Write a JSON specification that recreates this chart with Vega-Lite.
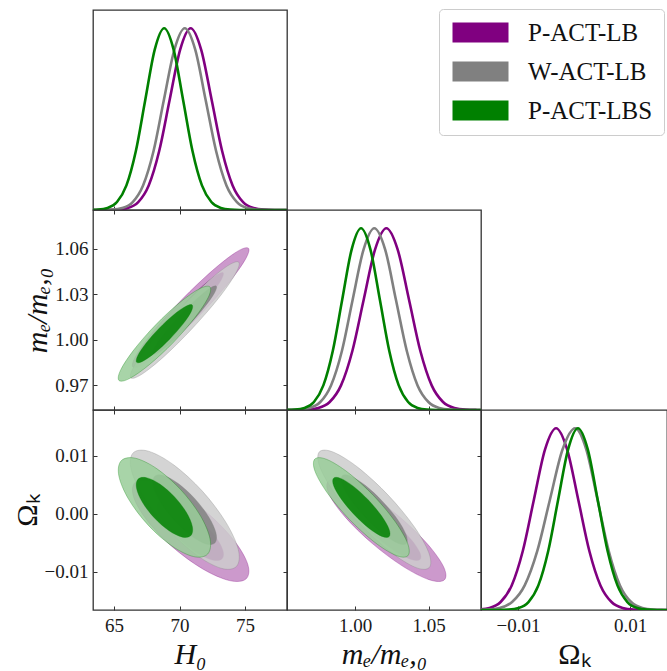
{
"$schema": "https://vega.github.io/schema/vega-lite/v6.json",
"autosize": {"type": "pad"},
"padding": {"left": 11, "top": 8, "right": 0, "bottom": 0},
"background": "white",
"datasets": {
"h0": [
{"s":"P-ACT-LB","x":63.4,"y":0},{"s":"P-ACT-LB","x":64.45,"y":0.0003},{"s":"P-ACT-LB","x":65.25,"y":0.0022},{"s":"P-ACT-LB","x":66.05,"y":0.0111},{"s":"P-ACT-LB","x":66.85,"y":0.0439},{"s":"P-ACT-LB","x":67.65,"y":0.1353},{"s":"P-ACT-LB","x":68.45,"y":0.3247},{"s":"P-ACT-LB","x":69.25,"y":0.6065},{"s":"P-ACT-LB","x":70.05,"y":0.8825},{"s":"P-ACT-LB","x":70.85,"y":1},{"s":"P-ACT-LB","x":71.65,"y":0.8825},{"s":"P-ACT-LB","x":72.45,"y":0.6065},{"s":"P-ACT-LB","x":73.25,"y":0.3247},{"s":"P-ACT-LB","x":74.05,"y":0.1353},{"s":"P-ACT-LB","x":74.85,"y":0.0439},{"s":"P-ACT-LB","x":75.65,"y":0.0111},{"s":"P-ACT-LB","x":76.45,"y":0.0022},{"s":"P-ACT-LB","x":77.25,"y":0.0003},{"s":"P-ACT-LB","x":78.2,"y":0},
{"s":"W-ACT-LB","x":63.4,"y":0},{"s":"W-ACT-LB","x":64.04,"y":0.0003},{"s":"W-ACT-LB","x":64.84,"y":0.0022},{"s":"W-ACT-LB","x":65.63,"y":0.0111},{"s":"W-ACT-LB","x":66.43,"y":0.0439},{"s":"W-ACT-LB","x":67.22,"y":0.1353},{"s":"W-ACT-LB","x":68.02,"y":0.3247},{"s":"W-ACT-LB","x":68.81,"y":0.6065},{"s":"W-ACT-LB","x":69.61,"y":0.8825},{"s":"W-ACT-LB","x":70.4,"y":1},{"s":"W-ACT-LB","x":71.2,"y":0.8825},{"s":"W-ACT-LB","x":71.99,"y":0.6065},{"s":"W-ACT-LB","x":72.79,"y":0.3247},{"s":"W-ACT-LB","x":73.58,"y":0.1353},{"s":"W-ACT-LB","x":74.38,"y":0.0439},{"s":"W-ACT-LB","x":75.17,"y":0.0111},{"s":"W-ACT-LB","x":75.97,"y":0.0022},{"s":"W-ACT-LB","x":76.76,"y":0.0003},{"s":"W-ACT-LB","x":78.2,"y":0},
{"s":"P-ACT-LBS","x":63.07,"y":0.0003},{"s":"P-ACT-LBS","x":63.79,"y":0.0022},{"s":"P-ACT-LBS","x":64.51,"y":0.0111},{"s":"P-ACT-LBS","x":65.23,"y":0.0439},{"s":"P-ACT-LBS","x":65.95,"y":0.1353},{"s":"P-ACT-LBS","x":66.67,"y":0.3247},{"s":"P-ACT-LBS","x":67.39,"y":0.6065},{"s":"P-ACT-LBS","x":68.11,"y":0.8825},{"s":"P-ACT-LBS","x":68.83,"y":1},{"s":"P-ACT-LBS","x":69.55,"y":0.8825},{"s":"P-ACT-LBS","x":70.27,"y":0.6065},{"s":"P-ACT-LBS","x":70.99,"y":0.3247},{"s":"P-ACT-LBS","x":71.71,"y":0.1353},{"s":"P-ACT-LBS","x":72.43,"y":0.0439},{"s":"P-ACT-LBS","x":73.15,"y":0.0111},{"s":"P-ACT-LBS","x":73.87,"y":0.0022},{"s":"P-ACT-LBS","x":74.59,"y":0.0003},{"s":"P-ACT-LBS","x":78.2,"y":0}
],
"me": [
{"s":"P-ACT-LB","x":0.9537,"y":0},{"s":"P-ACT-LB","x":0.9596,"y":0.0003},{"s":"P-ACT-LB","x":0.9673,"y":0.0022},{"s":"P-ACT-LB","x":0.975,"y":0.0111},{"s":"P-ACT-LB","x":0.9827,"y":0.0439},{"s":"P-ACT-LB","x":0.9904,"y":0.1353},{"s":"P-ACT-LB","x":0.9981,"y":0.3247},{"s":"P-ACT-LB","x":1.0058,"y":0.6065},{"s":"P-ACT-LB","x":1.0135,"y":0.8825},{"s":"P-ACT-LB","x":1.0212,"y":1},{"s":"P-ACT-LB","x":1.0289,"y":0.8825},{"s":"P-ACT-LB","x":1.0366,"y":0.6065},{"s":"P-ACT-LB","x":1.0443,"y":0.3247},{"s":"P-ACT-LB","x":1.052,"y":0.1353},{"s":"P-ACT-LB","x":1.0597,"y":0.0439},{"s":"P-ACT-LB","x":1.0674,"y":0.0111},{"s":"P-ACT-LB","x":1.0751,"y":0.0022},{"s":"P-ACT-LB","x":1.0828,"y":0.0003},{"s":"P-ACT-LB","x":1.0855,"y":0},
{"s":"W-ACT-LB","x":0.9542,"y":0.0003},{"s":"W-ACT-LB","x":0.9616,"y":0.0022},{"s":"W-ACT-LB","x":0.9689,"y":0.0111},{"s":"W-ACT-LB","x":0.9763,"y":0.0439},{"s":"W-ACT-LB","x":0.9836,"y":0.1353},{"s":"W-ACT-LB","x":0.991,"y":0.3247},{"s":"W-ACT-LB","x":0.9983,"y":0.6065},{"s":"W-ACT-LB","x":1.0057,"y":0.8825},{"s":"W-ACT-LB","x":1.013,"y":1},{"s":"W-ACT-LB","x":1.0204,"y":0.8825},{"s":"W-ACT-LB","x":1.0277,"y":0.6065},{"s":"W-ACT-LB","x":1.0351,"y":0.3247},{"s":"W-ACT-LB","x":1.0424,"y":0.1353},{"s":"W-ACT-LB","x":1.0498,"y":0.0439},{"s":"W-ACT-LB","x":1.0571,"y":0.0111},{"s":"W-ACT-LB","x":1.0645,"y":0.0022},{"s":"W-ACT-LB","x":1.0718,"y":0.0003},{"s":"W-ACT-LB","x":1.0855,"y":0},
{"s":"P-ACT-LBS","x":0.9528,"y":0.0003},{"s":"P-ACT-LBS","x":0.9592,"y":0.0022},{"s":"P-ACT-LBS","x":0.9656,"y":0.0111},{"s":"P-ACT-LBS","x":0.972,"y":0.0439},{"s":"P-ACT-LBS","x":0.9784,"y":0.1353},{"s":"P-ACT-LBS","x":0.9848,"y":0.3247},{"s":"P-ACT-LBS","x":0.9912,"y":0.6065},{"s":"P-ACT-LBS","x":0.9976,"y":0.8825},{"s":"P-ACT-LBS","x":1.004,"y":1},{"s":"P-ACT-LBS","x":1.0104,"y":0.8825},{"s":"P-ACT-LBS","x":1.0168,"y":0.6065},{"s":"P-ACT-LBS","x":1.0232,"y":0.3247},{"s":"P-ACT-LBS","x":1.0296,"y":0.1353},{"s":"P-ACT-LBS","x":1.036,"y":0.0439},{"s":"P-ACT-LBS","x":1.0424,"y":0.0111},{"s":"P-ACT-LBS","x":1.0488,"y":0.0022},{"s":"P-ACT-LBS","x":1.0552,"y":0.0003},{"s":"P-ACT-LBS","x":1.0855,"y":0}
],
"ok": [
{"s":"P-ACT-LB","x":-0.01904,"y":0.0003},{"s":"P-ACT-LB","x":-0.01706,"y":0.0022},{"s":"P-ACT-LB","x":-0.01508,"y":0.0111},{"s":"P-ACT-LB","x":-0.0131,"y":0.0439},{"s":"P-ACT-LB","x":-0.01112,"y":0.1353},{"s":"P-ACT-LB","x":-0.00914,"y":0.3247},{"s":"P-ACT-LB","x":-0.00716,"y":0.6065},{"s":"P-ACT-LB","x":-0.00518,"y":0.8825},{"s":"P-ACT-LB","x":-0.0032,"y":1},{"s":"P-ACT-LB","x":-0.00122,"y":0.8825},{"s":"P-ACT-LB","x":0.00076,"y":0.6065},{"s":"P-ACT-LB","x":0.00274,"y":0.3247},{"s":"P-ACT-LB","x":0.00472,"y":0.1353},{"s":"P-ACT-LB","x":0.0067,"y":0.0439},{"s":"P-ACT-LB","x":0.00868,"y":0.0111},{"s":"P-ACT-LB","x":0.01066,"y":0.0022},{"s":"P-ACT-LB","x":0.01264,"y":0.0003},{"s":"P-ACT-LB","x":0.0166,"y":0},
{"s":"W-ACT-LB","x":-0.0178,"y":0.0003},{"s":"W-ACT-LB","x":-0.01555,"y":0.0022},{"s":"W-ACT-LB","x":-0.0133,"y":0.0111},{"s":"W-ACT-LB","x":-0.01105,"y":0.0439},{"s":"W-ACT-LB","x":-0.0088,"y":0.1353},{"s":"W-ACT-LB","x":-0.00655,"y":0.3247},{"s":"W-ACT-LB","x":-0.0043,"y":0.6065},{"s":"W-ACT-LB","x":-0.00205,"y":0.8825},{"s":"W-ACT-LB","x":0.0002,"y":1},{"s":"W-ACT-LB","x":0.0022,"y":0.8825},{"s":"W-ACT-LB","x":0.0042,"y":0.6065},{"s":"W-ACT-LB","x":0.0062,"y":0.3247},{"s":"W-ACT-LB","x":0.0082,"y":0.1353},{"s":"W-ACT-LB","x":0.0102,"y":0.0439},{"s":"W-ACT-LB","x":0.0122,"y":0.0111},{"s":"W-ACT-LB","x":0.0142,"y":0.0022},{"s":"W-ACT-LB","x":0.0162,"y":0.0003},{"s":"W-ACT-LB","x":0.0166,"y":0},
{"s":"P-ACT-LBS","x":-0.0166,"y":0},{"s":"P-ACT-LBS","x":-0.01342,"y":0.0003},{"s":"P-ACT-LBS","x":-0.01166,"y":0.0022},{"s":"P-ACT-LBS","x":-0.00989,"y":0.0111},{"s":"P-ACT-LBS","x":-0.00813,"y":0.0439},{"s":"P-ACT-LBS","x":-0.00636,"y":0.1353},{"s":"P-ACT-LBS","x":-0.0046,"y":0.3247},{"s":"P-ACT-LBS","x":-0.00283,"y":0.6065},{"s":"P-ACT-LBS","x":-0.00106,"y":0.8825},{"s":"P-ACT-LBS","x":0.0007,"y":1},{"s":"P-ACT-LBS","x":0.00247,"y":0.8825},{"s":"P-ACT-LBS","x":0.00423,"y":0.6065},{"s":"P-ACT-LBS","x":0.006,"y":0.3247},{"s":"P-ACT-LBS","x":0.00776,"y":0.1353},{"s":"P-ACT-LBS","x":0.00953,"y":0.0439},{"s":"P-ACT-LBS","x":0.01129,"y":0.0111},{"s":"P-ACT-LBS","x":0.01306,"y":0.0022},{"s":"P-ACT-LBS","x":0.01482,"y":0.0003},{"s":"P-ACT-LBS","x":0.0166,"y":0}
],
"hm": [
{"s":"P","l":"o","k":0,"x":75.26,"y":1.0603},{"s":"P","l":"o","k":1,"x":74.35,"y":1.0579},{"s":"P","l":"o","k":2,"x":72.51,"y":1.0456},{"s":"P","l":"o","k":3,"x":70.22,"y":1.0268},{"s":"P","l":"o","k":4,"x":68.1,"y":1.0065},{"s":"P","l":"o","k":5,"x":66.72,"y":0.9901},{"s":"P","l":"o","k":6,"x":66.44,"y":0.9821},{"s":"P","l":"o","k":7,"x":67.35,"y":0.9845},{"s":"P","l":"o","k":8,"x":69.19,"y":0.9968},{"s":"P","l":"o","k":9,"x":71.48,"y":1.0156},{"s":"P","l":"o","k":10,"x":73.6,"y":1.0359},{"s":"P","l":"o","k":11,"x":74.98,"y":1.0523},
{"s":"P","l":"i","k":0,"x":73.33,"y":1.0441},{"s":"P","l":"i","k":1,"x":72.82,"y":1.0426},{"s":"P","l":"i","k":2,"x":71.78,"y":1.0355},{"s":"P","l":"i","k":3,"x":70.5,"y":1.0245},{"s":"P","l":"i","k":4,"x":69.3,"y":1.0126},{"s":"P","l":"i","k":5,"x":68.52,"y":1.003},{"s":"P","l":"i","k":6,"x":68.37,"y":0.9983},{"s":"P","l":"i","k":7,"x":68.88,"y":0.9998},{"s":"P","l":"i","k":8,"x":69.92,"y":1.0069},{"s":"P","l":"i","k":9,"x":71.2,"y":1.0179},{"s":"P","l":"i","k":10,"x":72.4,"y":1.0298},{"s":"P","l":"i","k":11,"x":73.18,"y":1.0394},
{"s":"W","l":"o","k":0,"x":74.52,"y":1.0511},{"s":"W","l":"o","k":1,"x":73.67,"y":1.0487},{"s":"W","l":"o","k":2,"x":71.95,"y":1.0368},{"s":"W","l":"o","k":3,"x":69.81,"y":1.0184},{"s":"W","l":"o","k":4,"x":67.83,"y":0.9987},{"s":"W","l":"o","k":5,"x":66.54,"y":0.9827},{"s":"W","l":"o","k":6,"x":66.28,"y":0.9749},{"s":"W","l":"o","k":7,"x":67.13,"y":0.9773},{"s":"W","l":"o","k":8,"x":68.85,"y":0.9892},{"s":"W","l":"o","k":9,"x":70.99,"y":1.0076},{"s":"W","l":"o","k":10,"x":72.97,"y":1.0273},{"s":"W","l":"o","k":11,"x":74.26,"y":1.0433},
{"s":"W","l":"i","k":0,"x":72.81,"y":1.0353},{"s":"W","l":"i","k":1,"x":72.31,"y":1.0339},{"s":"W","l":"i","k":2,"x":71.31,"y":1.0269},{"s":"W","l":"i","k":3,"x":70.06,"y":1.0162},{"s":"W","l":"i","k":4,"x":68.9,"y":1.0046},{"s":"W","l":"i","k":5,"x":68.14,"y":0.9953},{"s":"W","l":"i","k":6,"x":67.99,"y":0.9907},{"s":"W","l":"i","k":7,"x":68.49,"y":0.9921},{"s":"W","l":"i","k":8,"x":69.49,"y":0.9991},{"s":"W","l":"i","k":9,"x":70.74,"y":1.0098},{"s":"W","l":"i","k":10,"x":71.9,"y":1.0214},{"s":"W","l":"i","k":11,"x":72.66,"y":1.0307},
{"s":"G","l":"o","k":0,"x":72.32,"y":1.0348},{"s":"G","l":"o","k":1,"x":71.52,"y":1.0336},{"s":"G","l":"o","k":2,"x":70.01,"y":1.0245},{"s":"G","l":"o","k":3,"x":68.19,"y":1.0099},{"s":"G","l":"o","k":4,"x":66.55,"y":0.9937},{"s":"G","l":"o","k":5,"x":65.52,"y":0.9803},{"s":"G","l":"o","k":6,"x":65.38,"y":0.9732},{"s":"G","l":"o","k":7,"x":66.18,"y":0.9744},{"s":"G","l":"o","k":8,"x":67.69,"y":0.9835},{"s":"G","l":"o","k":9,"x":69.51,"y":0.9981},{"s":"G","l":"o","k":10,"x":71.15,"y":1.0143},{"s":"G","l":"o","k":11,"x":72.18,"y":1.0277},
{"s":"G","l":"i","k":0,"x":70.97,"y":1.0229},{"s":"G","l":"i","k":1,"x":70.49,"y":1.0221},{"s":"G","l":"i","k":2,"x":69.56,"y":1.0165},{"s":"G","l":"i","k":3,"x":68.45,"y":1.0076},{"s":"G","l":"i","k":4,"x":67.44,"y":0.9977},{"s":"G","l":"i","k":5,"x":66.81,"y":0.9895},{"s":"G","l":"i","k":6,"x":66.73,"y":0.9851},{"s":"G","l":"i","k":7,"x":67.21,"y":0.9859},{"s":"G","l":"i","k":8,"x":68.14,"y":0.9915},{"s":"G","l":"i","k":9,"x":69.25,"y":1.0004},{"s":"G","l":"i","k":10,"x":70.26,"y":1.0103},{"s":"G","l":"i","k":11,"x":70.89,"y":1.0185}
],
"ho": [
{"s":"P","l":"o","k":0,"x":72.26,"y":-0.00012},{"s":"P","l":"o","k":1,"x":69.96,"y":0.00368},{"s":"P","l":"o","k":2,"x":67.9,"y":0.00572},{"s":"P","l":"o","k":3,"x":66.63,"y":0.00545},{"s":"P","l":"o","k":4,"x":66.49,"y":0.00294},{"s":"P","l":"o","k":5,"x":67.52,"y":-0.00114},{"s":"P","l":"o","k":6,"x":69.44,"y":-0.00568},{"s":"P","l":"o","k":7,"x":71.74,"y":-0.00948},{"s":"P","l":"o","k":8,"x":73.8,"y":-0.01152},{"s":"P","l":"o","k":9,"x":75.07,"y":-0.01125},{"s":"P","l":"o","k":10,"x":75.21,"y":-0.00874},{"s":"P","l":"o","k":11,"x":74.18,"y":-0.00466},
{"s":"P","l":"i","k":0,"x":71.64,"y":-0.00127},{"s":"P","l":"i","k":1,"x":70.35,"y":0.00097},{"s":"P","l":"i","k":2,"x":69.19,"y":0.00217},{"s":"P","l":"i","k":3,"x":68.47,"y":0.002},{"s":"P","l":"i","k":4,"x":68.39,"y":0.00053},{"s":"P","l":"i","k":5,"x":68.97,"y":-0.00186},{"s":"P","l":"i","k":6,"x":70.06,"y":-0.00453},{"s":"P","l":"i","k":7,"x":71.35,"y":-0.00677},{"s":"P","l":"i","k":8,"x":72.51,"y":-0.00797},{"s":"P","l":"i","k":9,"x":73.23,"y":-0.0078},{"s":"P","l":"i","k":10,"x":73.31,"y":-0.00633},{"s":"P","l":"i","k":11,"x":72.73,"y":-0.00394},
{"s":"W","l":"o","k":0,"x":71.72,"y":0.00396},{"s":"W","l":"o","k":1,"x":69.57,"y":0.00841},{"s":"W","l":"o","k":2,"x":67.64,"y":0.01079},{"s":"W","l":"o","k":3,"x":66.45,"y":0.01047},{"s":"W","l":"o","k":4,"x":66.32,"y":0.00753},{"s":"W","l":"o","k":5,"x":67.29,"y":0.00277},{"s":"W","l":"o","k":6,"x":69.08,"y":-0.00256},{"s":"W","l":"o","k":7,"x":71.23,"y":-0.00701},{"s":"W","l":"o","k":8,"x":73.16,"y":-0.00939},{"s":"W","l":"o","k":9,"x":74.35,"y":-0.00907},{"s":"W","l":"o","k":10,"x":74.48,"y":-0.00613},{"s":"W","l":"o","k":11,"x":73.51,"y":-0.00137},
{"s":"W","l":"i","k":0,"x":71.17,"y":0.0026},{"s":"W","l":"i","k":1,"x":69.91,"y":0.0052},{"s":"W","l":"i","k":2,"x":68.79,"y":0.0066},{"s":"W","l":"i","k":3,"x":68.09,"y":0.00641},{"s":"W","l":"i","k":4,"x":68.02,"y":0.00469},{"s":"W","l":"i","k":5,"x":68.58,"y":0.00191},{"s":"W","l":"i","k":6,"x":69.63,"y":-0.0012},{"s":"W","l":"i","k":7,"x":70.89,"y":-0.0038},{"s":"W","l":"i","k":8,"x":72.01,"y":-0.0052},{"s":"W","l":"i","k":9,"x":72.71,"y":-0.00501},{"s":"W","l":"i","k":10,"x":72.78,"y":-0.00329},{"s":"W","l":"i","k":11,"x":72.22,"y":-0.00051},
{"s":"G","l":"o","k":0,"x":70.1,"y":0.00414},{"s":"G","l":"o","k":1,"x":68.28,"y":0.00776},{"s":"G","l":"o","k":2,"x":66.62,"y":0.00959},{"s":"G","l":"o","k":3,"x":65.55,"y":0.00914},{"s":"G","l":"o","k":4,"x":65.37,"y":0.00655},{"s":"G","l":"o","k":5,"x":66.12,"y":0.00249},{"s":"G","l":"o","k":6,"x":67.6,"y":-0.00194},{"s":"G","l":"o","k":7,"x":69.42,"y":-0.00556},{"s":"G","l":"o","k":8,"x":71.08,"y":-0.00739},{"s":"G","l":"o","k":9,"x":72.15,"y":-0.00694},{"s":"G","l":"o","k":10,"x":72.33,"y":-0.00435},{"s":"G","l":"o","k":11,"x":71.58,"y":-0.00029},
{"s":"G","l":"i","k":0,"x":69.61,"y":0.00294},{"s":"G","l":"i","k":1,"x":68.5,"y":0.00512},{"s":"G","l":"i","k":2,"x":67.48,"y":0.00623},{"s":"G","l":"i","k":3,"x":66.83,"y":0.00596},{"s":"G","l":"i","k":4,"x":66.72,"y":0.00439},{"s":"G","l":"i","k":5,"x":67.18,"y":0.00194},{"s":"G","l":"i","k":6,"x":68.09,"y":-0.00074},{"s":"G","l":"i","k":7,"x":69.2,"y":-0.00292},{"s":"G","l":"i","k":8,"x":70.22,"y":-0.00403},{"s":"G","l":"i","k":9,"x":70.87,"y":-0.00376},{"s":"G","l":"i","k":10,"x":70.98,"y":-0.00219},{"s":"G","l":"i","k":11,"x":70.52,"y":0.00026}
],
"mo": [
{"s":"P","l":"o","k":0,"x":1.0311,"y":-0.00074},{"s":"P","l":"o","k":1,"x":1.0102,"y":0.00323},{"s":"P","l":"o","k":2,"x":0.9922,"y":0.00557},{"s":"P","l":"o","k":3,"x":0.9819,"y":0.00563},{"s":"P","l":"o","k":4,"x":0.9822,"y":0.00341},{"s":"P","l":"o","k":5,"x":0.993,"y":-0.0005},{"s":"P","l":"o","k":6,"x":1.0113,"y":-0.00506},{"s":"P","l":"o","k":7,"x":1.0322,"y":-0.00903},{"s":"P","l":"o","k":8,"x":1.0502,"y":-0.01137},{"s":"P","l":"o","k":9,"x":1.0605,"y":-0.01143},{"s":"P","l":"o","k":10,"x":1.0602,"y":-0.00921},{"s":"P","l":"o","k":11,"x":1.0494,"y":-0.0053},
{"s":"P","l":"i","k":0,"x":1.027,"y":-0.00163},{"s":"P","l":"i","k":1,"x":1.0148,"y":0.0007},{"s":"P","l":"i","k":2,"x":1.0043,"y":0.00207},{"s":"P","l":"i","k":3,"x":0.9984,"y":0.00211},{"s":"P","l":"i","k":4,"x":0.9986,"y":0.00081},{"s":"P","l":"i","k":5,"x":1.0048,"y":-0.00149},{"s":"P","l":"i","k":6,"x":1.0154,"y":-0.00417},{"s":"P","l":"i","k":7,"x":1.0276,"y":-0.0065},{"s":"P","l":"i","k":8,"x":1.0381,"y":-0.00787},{"s":"P","l":"i","k":9,"x":1.044,"y":-0.00791},{"s":"P","l":"i","k":10,"x":1.0438,"y":-0.00661},{"s":"P","l":"i","k":11,"x":1.0376,"y":-0.00431},
{"s":"W","l":"o","k":0,"x":1.0224,"y":0.00322},{"s":"W","l":"o","k":1,"x":1.0025,"y":0.00788},{"s":"W","l":"o","k":2,"x":0.9854,"y":0.01061},{"s":"W","l":"o","k":3,"x":0.9757,"y":0.01069},{"s":"W","l":"o","k":4,"x":0.976,"y":0.00809},{"s":"W","l":"o","k":5,"x":0.9862,"y":0.00351},{"s":"W","l":"o","k":6,"x":1.0036,"y":-0.00182},{"s":"W","l":"o","k":7,"x":1.0235,"y":-0.00648},{"s":"W","l":"o","k":8,"x":1.0406,"y":-0.00921},{"s":"W","l":"o","k":9,"x":1.0503,"y":-0.00929},{"s":"W","l":"o","k":10,"x":1.05,"y":-0.00669},{"s":"W","l":"o","k":11,"x":1.0398,"y":-0.00211},
{"s":"W","l":"i","k":0,"x":1.0185,"y":0.00217},{"s":"W","l":"i","k":1,"x":1.0069,"y":0.0049},{"s":"W","l":"i","k":2,"x":0.9969,"y":0.00649},{"s":"W","l":"i","k":3,"x":0.9912,"y":0.00654},{"s":"W","l":"i","k":4,"x":0.9914,"y":0.00502},{"s":"W","l":"i","k":5,"x":0.9973,"y":0.00234},{"s":"W","l":"i","k":6,"x":1.0075,"y":-0.00077},{"s":"W","l":"i","k":7,"x":1.0191,"y":-0.0035},{"s":"W","l":"i","k":8,"x":1.0291,"y":-0.00509},{"s":"W","l":"i","k":9,"x":1.0348,"y":-0.00514},{"s":"W","l":"i","k":10,"x":1.0346,"y":-0.00362},{"s":"W","l":"i","k":11,"x":1.0287,"y":-0.00094},
{"s":"G","l":"o","k":0,"x":1.0122,"y":0.00321},{"s":"G","l":"o","k":1,"x":0.9953,"y":0.00709},{"s":"G","l":"o","k":2,"x":0.9808,"y":0.00937},{"s":"G","l":"o","k":3,"x":0.9726,"y":0.00944},{"s":"G","l":"o","k":4,"x":0.9728,"y":0.00727},{"s":"G","l":"o","k":5,"x":0.9815,"y":0.00345},{"s":"G","l":"o","k":6,"x":0.9962,"y":-0.00101},{"s":"G","l":"o","k":7,"x":1.0131,"y":-0.00489},{"s":"G","l":"o","k":8,"x":1.0276,"y":-0.00717},{"s":"G","l":"o","k":9,"x":1.0358,"y":-0.00724},{"s":"G","l":"o","k":10,"x":1.0356,"y":-0.00507},{"s":"G","l":"o","k":11,"x":1.0269,"y":-0.00125},
{"s":"G","l":"i","k":0,"x":1.009,"y":0.00237},{"s":"G","l":"i","k":1,"x":0.9989,"y":0.00472},{"s":"G","l":"i","k":2,"x":0.9902,"y":0.0061},{"s":"G","l":"i","k":3,"x":0.9853,"y":0.00614},{"s":"G","l":"i","k":4,"x":0.9854,"y":0.00483},{"s":"G","l":"i","k":5,"x":0.9906,"y":0.00252},{"s":"G","l":"i","k":6,"x":0.9994,"y":-0.00017},{"s":"G","l":"i","k":7,"x":1.0095,"y":-0.00252},{"s":"G","l":"i","k":8,"x":1.0182,"y":-0.0039},{"s":"G","l":"i","k":9,"x":1.0231,"y":-0.00394},{"s":"G","l":"i","k":10,"x":1.023,"y":-0.00263},{"s":"G","l":"i","k":11,"x":1.0178,"y":-0.00032}
]
},
"concat": [
{
"width": 194, "height": 200,
"data": {"name": "h0"},
"mark": {"type": "line", "interpolate": "monotone", "strokeWidth": 2.6, "clip": true},
"encoding": {
"x": {"field": "x", "type": "quantitative", "scale": {"domain": [63.4, 78.2], "zero": false, "nice": false}, "axis": {"values": [65, 70, 75], "labels": false, "title": null}},
"y": {"field": "y", "type": "quantitative", "scale": {"domain": [0, 1.1], "nice": false}, "axis": null},
"color": {"field": "s", "type": "nominal", "scale": {"domain": ["P-ACT-LB", "W-ACT-LB", "P-ACT-LBS"], "range": ["#800080", "#808080", "#008000"]}, "legend": null}
}
},
{
"width": 194, "height": 200,
"view": {"stroke": null},
"data": {"values": [{"s": "P-ACT-LB"}, {"s": "W-ACT-LB"}, {"s": "P-ACT-LBS"}]},
"mark": {"type": "point", "filled": true, "opacity": 0},
"encoding": {
"color": {"field": "s", "type": "nominal", "scale": {"domain": ["P-ACT-LB", "W-ACT-LB", "P-ACT-LBS"], "range": ["#800080", "#808080", "#008000"]},
"legend": {"orient": "none", "legendX": 152, "legendY": -1, "title": null, "symbolType": "M-2.8,-1L2.8,-1L2.8,1L-2.8,1Z", "symbolSize": 400, "symbolOffset": 18, "symbolStrokeWidth": 0, "symbolOpacity": 1, "labelFont": "Liberation Serif", "labelFontSize": 25, "labelColor": "#111111", "labelOffset": 35, "rowPadding": 13, "padding": 11, "strokeColor": "#cccccc", "fillColor": "#ffffff", "cornerRadius": 4, "labelLimit": 300}}
}
},
{
"width": 186, "height": 200,
"view": {"stroke": null},
"data": {"values": [{"a": 1}]},
"mark": {"type": "point", "opacity": 0}
},
{
"width": 194, "height": 200,
"data": {"name": "hm"},
"encoding": {
"x": {"field": "x", "type": "quantitative", "scale": {"domain": [63.4, 78.2], "zero": false, "nice": false}, "axis": null},
"y": {"field": "y", "type": "quantitative", "scale": {"domain": [0.9537, 1.0855], "zero": false, "nice": false}, "axis": null},
"order": {"field": "k", "type": "quantitative"}
},
"layer": [
{"transform": [{"filter": "datum.s=='P'&&datum.l=='o'"}], "mark": {"type": "line", "interpolate": "cardinal-closed", "fill": "#cc99cc", "fillOpacity": 1, "stroke": "#800080", "strokeWidth": 0.6, "strokeOpacity": 0.5}},
{"transform": [{"filter": "datum.s=='P'&&datum.l=='i'"}], "mark": {"type": "line", "interpolate": "cardinal-closed", "fill": "#800080", "fillOpacity": 1, "stroke": "#800080", "strokeWidth": 0.6, "strokeOpacity": 0.5}},
{"transform": [{"filter": "datum.s=='W'&&datum.l=='o'"}], "mark": {"type": "line", "interpolate": "cardinal-closed", "fill": "#cccccc", "fillOpacity": 0.85, "stroke": "#808080", "strokeWidth": 0.6, "strokeOpacity": 0.5}},
{"transform": [{"filter": "datum.s=='W'&&datum.l=='i'"}], "mark": {"type": "line", "interpolate": "cardinal-closed", "fill": "#808080", "fillOpacity": 0.85, "stroke": "#808080", "strokeWidth": 0.6, "strokeOpacity": 0.5}},
{"transform": [{"filter": "datum.s=='G'&&datum.l=='o'"}], "mark": {"type": "line", "interpolate": "cardinal-closed", "fill": "#99cc99", "fillOpacity": 0.85, "stroke": "#008000", "strokeWidth": 0.6, "strokeOpacity": 0.5}},
{"transform": [{"filter": "datum.s=='G'&&datum.l=='i'"}], "mark": {"type": "line", "interpolate": "cardinal-closed", "fill": "#008000", "fillOpacity": 0.85, "stroke": "#008000", "strokeWidth": 0.6, "strokeOpacity": 0.5}},
{"mark": {"type": "point", "opacity": 0},
"encoding": {
"x": {"field": "x", "type": "quantitative", "scale": {"domain": [63.4, 78.2], "zero": false, "nice": false}, "axis": {"values": [65, 70, 75], "labels": false, "title": null}},
"y": {"field": "y", "type": "quantitative", "scale": {"domain": [0.9537, 1.0855], "zero": false, "nice": false}, "axis": {"values": [0.97, 1.0, 1.03, 1.06], "format": ".2f", "title": "mₑ/mₑ,₀", "titleFontStyle": "italic"}}
}},
{"mark": {"type": "point", "opacity": 0},
"encoding": {
"x": {"field": "x", "type": "quantitative", "scale": {"domain": [63.4, 78.2], "zero": false, "nice": false}, "axis": {"orient": "top", "values": [65, 70, 75], "labels": false, "title": null}},
"y": {"field": "y", "type": "quantitative", "scale": {"domain": [0.9537, 1.0855], "zero": false, "nice": false}, "axis": {"orient": "right", "values": [0.97, 1.0, 1.03, 1.06], "labels": false, "title": null}}
}}
],
"resolve": {"axis": {"x": "independent", "y": "independent"}}
},
{
"width": 194, "height": 200,
"data": {"name": "me"},
"mark": {"type": "line", "interpolate": "monotone", "strokeWidth": 2.6, "clip": true},
"encoding": {
"x": {"field": "x", "type": "quantitative", "scale": {"domain": [0.9537, 1.0855], "zero": false, "nice": false}, "axis": {"values": [1.0, 1.05], "labels": false, "title": null}},
"y": {"field": "y", "type": "quantitative", "scale": {"domain": [0, 1.1], "nice": false}, "axis": null},
"color": {"field": "s", "type": "nominal", "scale": {"domain": ["P-ACT-LB", "W-ACT-LB", "P-ACT-LBS"], "range": ["#800080", "#808080", "#008000"]}, "legend": null}
}
},
{
"width": 186, "height": 200,
"view": {"stroke": null},
"data": {"values": [{"a": 1}]},
"mark": {"type": "point", "opacity": 0}
},
{
"width": 194, "height": 200,
"data": {"name": "ho"},
"encoding": {
"x": {"field": "x", "type": "quantitative", "scale": {"domain": [63.4, 78.2], "zero": false, "nice": false}, "axis": null},
"y": {"field": "y", "type": "quantitative", "scale": {"domain": [-0.0166, 0.0179], "zero": false, "nice": false}, "axis": null},
"order": {"field": "k", "type": "quantitative"}
},
"layer": [
{"transform": [{"filter": "datum.s=='P'&&datum.l=='o'"}], "mark": {"type": "line", "interpolate": "cardinal-closed", "fill": "#cc99cc", "fillOpacity": 1, "stroke": "#800080", "strokeWidth": 0.6, "strokeOpacity": 0.5}},
{"transform": [{"filter": "datum.s=='P'&&datum.l=='i'"}], "mark": {"type": "line", "interpolate": "cardinal-closed", "fill": "#800080", "fillOpacity": 1, "stroke": "#800080", "strokeWidth": 0.6, "strokeOpacity": 0.5}},
{"transform": [{"filter": "datum.s=='W'&&datum.l=='o'"}], "mark": {"type": "line", "interpolate": "cardinal-closed", "fill": "#cccccc", "fillOpacity": 0.85, "stroke": "#808080", "strokeWidth": 0.6, "strokeOpacity": 0.5}},
{"transform": [{"filter": "datum.s=='W'&&datum.l=='i'"}], "mark": {"type": "line", "interpolate": "cardinal-closed", "fill": "#808080", "fillOpacity": 0.85, "stroke": "#808080", "strokeWidth": 0.6, "strokeOpacity": 0.5}},
{"transform": [{"filter": "datum.s=='G'&&datum.l=='o'"}], "mark": {"type": "line", "interpolate": "cardinal-closed", "fill": "#99cc99", "fillOpacity": 0.85, "stroke": "#008000", "strokeWidth": 0.6, "strokeOpacity": 0.5}},
{"transform": [{"filter": "datum.s=='G'&&datum.l=='i'"}], "mark": {"type": "line", "interpolate": "cardinal-closed", "fill": "#008000", "fillOpacity": 0.85, "stroke": "#008000", "strokeWidth": 0.6, "strokeOpacity": 0.5}},
{"mark": {"type": "point", "opacity": 0},
"encoding": {
"x": {"field": "x", "type": "quantitative", "scale": {"domain": [63.4, 78.2], "zero": false, "nice": false}, "axis": {"values": [65, 70, 75], "format": "d", "title": "H₀", "titleFontStyle": "italic"}},
"y": {"field": "y", "type": "quantitative", "scale": {"domain": [-0.0166, 0.0179], "zero": false, "nice": false}, "axis": {"values": [-0.01, 0, 0.01], "format": ".2f", "title": "Ωₖ"}}
}},
{"mark": {"type": "point", "opacity": 0},
"encoding": {
"x": {"field": "x", "type": "quantitative", "scale": {"domain": [63.4, 78.2], "zero": false, "nice": false}, "axis": {"orient": "top", "values": [65, 70, 75], "labels": false, "title": null}},
"y": {"field": "y", "type": "quantitative", "scale": {"domain": [-0.0166, 0.0179], "zero": false, "nice": false}, "axis": {"orient": "right", "values": [-0.01, 0, 0.01], "labels": false, "title": null}}
}}
],
"resolve": {"axis": {"x": "independent", "y": "independent"}}
},
{
"width": 194, "height": 200,
"data": {"name": "mo"},
"encoding": {
"x": {"field": "x", "type": "quantitative", "scale": {"domain": [0.9537, 1.0855], "zero": false, "nice": false}, "axis": null},
"y": {"field": "y", "type": "quantitative", "scale": {"domain": [-0.0166, 0.0179], "zero": false, "nice": false}, "axis": null},
"order": {"field": "k", "type": "quantitative"}
},
"layer": [
{"transform": [{"filter": "datum.s=='P'&&datum.l=='o'"}], "mark": {"type": "line", "interpolate": "cardinal-closed", "fill": "#cc99cc", "fillOpacity": 1, "stroke": "#800080", "strokeWidth": 0.6, "strokeOpacity": 0.5}},
{"transform": [{"filter": "datum.s=='P'&&datum.l=='i'"}], "mark": {"type": "line", "interpolate": "cardinal-closed", "fill": "#800080", "fillOpacity": 1, "stroke": "#800080", "strokeWidth": 0.6, "strokeOpacity": 0.5}},
{"transform": [{"filter": "datum.s=='W'&&datum.l=='o'"}], "mark": {"type": "line", "interpolate": "cardinal-closed", "fill": "#cccccc", "fillOpacity": 0.85, "stroke": "#808080", "strokeWidth": 0.6, "strokeOpacity": 0.5}},
{"transform": [{"filter": "datum.s=='W'&&datum.l=='i'"}], "mark": {"type": "line", "interpolate": "cardinal-closed", "fill": "#808080", "fillOpacity": 0.85, "stroke": "#808080", "strokeWidth": 0.6, "strokeOpacity": 0.5}},
{"transform": [{"filter": "datum.s=='G'&&datum.l=='o'"}], "mark": {"type": "line", "interpolate": "cardinal-closed", "fill": "#99cc99", "fillOpacity": 0.85, "stroke": "#008000", "strokeWidth": 0.6, "strokeOpacity": 0.5}},
{"transform": [{"filter": "datum.s=='G'&&datum.l=='i'"}], "mark": {"type": "line", "interpolate": "cardinal-closed", "fill": "#008000", "fillOpacity": 0.85, "stroke": "#008000", "strokeWidth": 0.6, "strokeOpacity": 0.5}},
{"mark": {"type": "point", "opacity": 0},
"encoding": {
"x": {"field": "x", "type": "quantitative", "scale": {"domain": [0.9537, 1.0855], "zero": false, "nice": false}, "axis": {"values": [1.0, 1.05], "format": ".2f", "title": "mₑ/mₑ,₀", "titleFontStyle": "italic"}}
}},
{"mark": {"type": "point", "opacity": 0},
"encoding": {
"x": {"field": "x", "type": "quantitative", "scale": {"domain": [0.9537, 1.0855], "zero": false, "nice": false}, "axis": {"orient": "top", "values": [1.0, 1.05], "labels": false, "title": null}},
"y": {"field": "y", "type": "quantitative", "scale": {"domain": [-0.0166, 0.0179], "zero": false, "nice": false}, "axis": {"orient": "right", "values": [-0.01, 0, 0.01], "labels": false, "title": null}}
}}
],
"resolve": {"axis": {"x": "independent", "y": "independent"}}
},
{
"width": 186, "height": 200,
"data": {"name": "ok"},
"mark": {"type": "line", "interpolate": "monotone", "strokeWidth": 2.6, "clip": true},
"encoding": {
"x": {"field": "x", "type": "quantitative", "scale": {"domain": [-0.0166, 0.0166], "zero": false, "nice": false}, "axis": {"values": [-0.01, 0.01], "format": ".2f", "title": "Ωₖ"}},
"y": {"field": "y", "type": "quantitative", "scale": {"domain": [0, 1.1], "nice": false}, "axis": null},
"color": {"field": "s", "type": "nominal", "scale": {"domain": ["P-ACT-LB", "W-ACT-LB", "P-ACT-LBS"], "range": ["#800080", "#808080", "#008000"]}, "legend": null}
}
}
],
"columns": 3,
"spacing": 0,
"bounds": "flush",
"align": "each",
"resolve": {"legend": {"color": "independent"}},
"config": {
"view": {"stroke": "#333333", "strokeWidth": 1.3},
"axis": {"domain": false, "grid": false, "tickSize": -4, "tickWidth": 1, "tickColor": "#333333", "labelFont": "Liberation Serif", "labelFontSize": 19, "labelColor": "#1a1a1a", "labelPadding": 9, "labelFlush": false, "labelOverlap": false, "titleFont": "Liberation Serif", "titleFontSize": 30, "titleFontWeight": "normal", "titleColor": "#111111"},
"axisX": {"labelPadding": 10, "titlePadding": 4},
"axisY": {"titlePadding": 2}
}
}
